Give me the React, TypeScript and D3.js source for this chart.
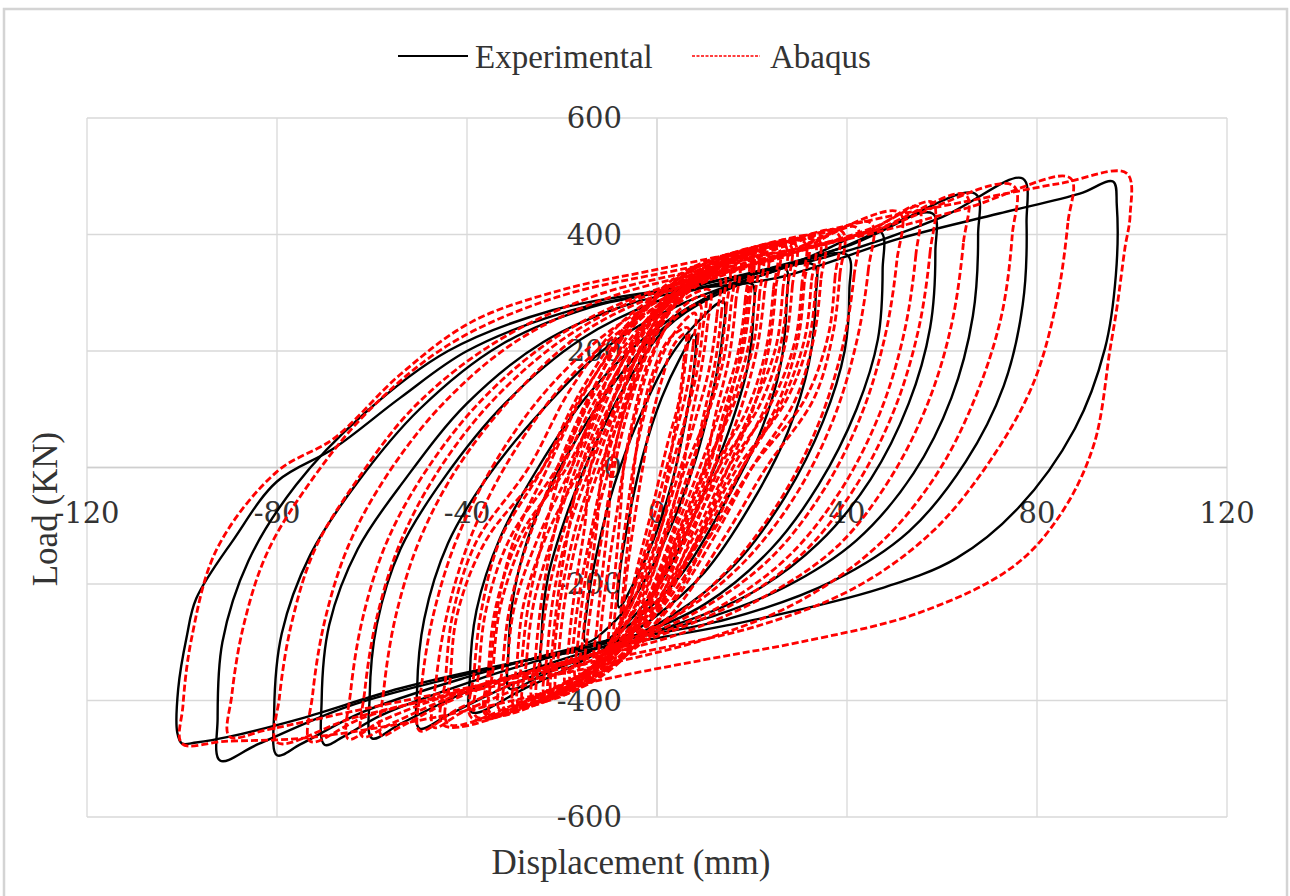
import React from 'react';
import * as d3 from 'd3';

// Axis ticks
const xTicks = [-120, -80, -40, 0, 40, 80, 120];
const yTicks = [-600, -400, -200, 0, 200, 400, 600];
const seriesNames = ['Experimental', 'Abaqus'];

// Experimental hysteresis loops, [displacement mm, load kN]
const exp01 = [[8,230],[7.8,170],[6,80],[3,-30],[-1,-130],[-5,-200],[-8,-240],[-7.8,-180],[-6,-90],[-3,20],[1,120],[5,190]];
const exp02 = [[14,285],[13.7,220],[11.5,120],[8,10],[3,-100],[-3,-200],[-9,-265],[-15,-300],[-14.7,-240],[-12.5,-140],[-9,-30],[-4,80],[2,180],[8,245]];
const exp03 = [[20,315],[20.3,265],[19,170],[15,60],[9,-60],[2,-180],[-6,-265],[-15,-320],[-24,-345],[-24.3,-290],[-23,-190],[-19,-80],[-13,40],[-6,150],[2,240],[11,290]];
const exp04 = [[27,342],[27.3,285],[26,175],[21.5,55],[14,-65],[5,-185],[-5,-265],[-16,-325],[-25,-360],[-31,-380],[-31.3,-320],[-30,-210],[-26,-95],[-19,20],[-10,135],[0,230],[11,295],[20,330]];
const exp05 = [[33,348],[33.4,290],[32,180],[27.5,60],[20,-60],[10,-180],[-1,-260],[-14,-325],[-28,-380],[-39,-420],[-39.4,-360],[-38,-245],[-33,-120],[-25,0],[-15,120],[-3,220],[10,290],[22,330]];
const exp06 = [[40,365],[40.5,305],[39.5,200],[35,80],[27,-50],[16,-170],[3,-255],[-13,-320],[-30,-370],[-44,-425],[-50,-448],[-50.5,-380],[-49,-260],[-44,-130],[-36,-20],[-24,100],[-10,210],[5,280],[22,330]];
const exp07 = [[47,405],[47.5,340],[46.5,220],[42,100],[34,-30],[24,-140],[10,-235],[-5,-290],[-22,-335],[-40,-385],[-54,-440],[-60,-465],[-60.5,-395],[-59,-270],[-54,-140],[-45,-20],[-32,110],[-16,220],[0,285],[15,320],[30,355]];
const exp08 = [[58,436],[58.6,370],[57.5,240],[53,110],[45,-20],[34,-130],[20,-215],[2,-275],[-20,-320],[-40,-370],[-58,-425],[-66,-462],[-70,-476],[-70.6,-400],[-69,-270],[-63,-140],[-53,-20],[-40,110],[-24,215],[-6,280],[15,320],[38,375]];
const exp09 = [[67,470],[67.6,400],[66.5,260],[62,120],[54,-10],[42,-125],[27,-205],[8,-265],[-15,-305],[-40,-360],[-62,-420],[-75,-475],[-80,-494],[-80.6,-420],[-79,-285],[-73,-150],[-63,-25],[-50,100],[-33,210],[-14,275],[10,315],[40,380]];
const exp10 = [[77,496],[77.8,420],[77,280],[73,140],[65,10],[53,-110],[37,-195],[15,-260],[-10,-300],[-40,-355],[-65,-410],[-84,-475],[-92,-503],[-92.5,-430],[-91.5,-300],[-86,-160],[-76,-30],[-62,90],[-44,200],[-22,270],[5,310],[35,360],[60,430]];
const exp11 = [[96,491],[96.8,450],[96.6,330],[94.3,204],[88,67],[76,-70],[63,-156],[47,-208],[22,-259],[0,-293],[-30,-335],[-54,-379],[-75,-431],[-90,-462],[-97,-472],[-100,-474],[-101,-455],[-100.8,-380],[-99,-290],[-97,-225],[-89,-122],[-80,-24],[-68,33],[-54,120],[-40,200],[-20,265],[0,300],[25,325],[51,393],[72,436],[89,470]];

// Abaqus hysteresis loops, small cycles first
const abq01 = [[6,230],[5.6,180],[4.5,110],[2.5,50],[1,0],[-1,-70],[-3.5,-150],[-5.5,-215],[-7,-250],[-6.6,-200],[-5.5,-130],[-4.2,-60],[-3,0],[-1.5,70],[1,150],[3.5,210]];
const abq02 = [[8,265],[7.6,210],[6.3,135],[4,60],[2,0],[-0.5,-80],[-3.5,-170],[-6.5,-245],[-9,-290],[-8.6,-230],[-7.5,-150],[-6.2,-70],[-5,0],[-3,80],[0,170],[4,235]];
const abq03 = [[10,295],[9.6,235],[8.3,160],[5.5,70],[3,0],[0,-90],[-4,-190],[-8,-270],[-12,-325],[-11.6,-260],[-10.3,-175],[-8.5,-80],[-7,0],[-4.5,90],[-1,190],[4,265]];
const abq04 = [[13,325],[12.6,260],[11,170],[8,80],[5,0],[1,-100],[-4,-210],[-9,-290],[-15,-350],[-14.6,-285],[-13,-190],[-11,-90],[-9,0],[-6,100],[-1.5,205],[5,290]];
const abq05 = [[16,345],[15.6,280],[14,185],[10.5,85],[7,0],[2.5,-105],[-3,-220],[-10,-310],[-18,-370],[-17.6,-300],[-16,-200],[-13.5,-95],[-11,0],[-7,110],[-1.5,220],[6,305]];
const abq06 = [[19,360],[18.6,290],[17,195],[13,90],[9,0],[4,-105],[-2,-225],[-10,-320],[-16,-365],[-22,-388],[-21.6,-315],[-20,-210],[-17,-100],[-13,0],[-8,115],[-2,230],[7,320],[13,348]];
const abq07 = [[20,362],[19.6,292],[18,198],[14,92],[11,0],[6,-100],[-1,-220],[-8,-315],[-15,-365],[-21,-385],[-20.6,-312],[-19,-208],[-16,-98],[-12,0],[-6,118],[0,232],[8,318],[14,348]];
const abq08 = [[22,368],[21.6,298],[20,200],[15.5,95],[10,0],[4.5,-110],[-2,-230],[-10,-325],[-18,-375],[-25,-396],[-24.6,-325],[-23,-220],[-19.5,-105],[-15,0],[-9,120],[-2,240],[8,325],[15,355]];
const abq09 = [[25,375],[24.5,305],[23,205],[19,100],[12,0],[6,-110],[-2,-230],[-11,-325],[-20,-380],[-28,-405],[-27.5,-335],[-26,-235],[-22,-120],[-17,0],[-11,120],[-3,240],[7,325],[16,362]];
const abq10 = [[27,380],[26.5,306],[25,206],[20,100],[14,0],[7,-110],[-1,-232],[-10,-328],[-20,-380],[-30,-410],[-29.5,-338],[-28,-232],[-23,-112],[-16,0],[-9,122],[0,242],[10,328],[19,365]];
const abq11 = [[28,382],[27.5,310],[26,210],[21.5,105],[13,0],[6,-115],[-2,-235],[-12,-330],[-22,-385],[-32,-415],[-31.5,-340],[-30,-238],[-25,-120],[-18,0],[-11,125],[-2,245],[9,330],[19,368]];
const abq12 = [[31,387],[30.5,315],[29,215],[24,110],[15,0],[8,-115],[-1,-240],[-12,-335],[-24,-390],[-35,-422],[-34.5,-345],[-33,-240],[-28,-120],[-20,0],[-12,130],[-2,250],[10,335],[21,372]];
const abq13 = [[33,390],[32.5,318],[31,218],[26,108],[18,0],[10,-112],[0,-240],[-12,-335],[-25,-392],[-36,-425],[-35.5,-348],[-34,-242],[-29,-120],[-19,0],[-11,128],[-1,252],[11,336],[22,374]];
const abq14 = [[34,392],[33.5,320],[32,220],[27,112],[17,0],[9,-118],[-1,-245],[-13,-340],[-26,-395],[-38,-428],[-37.5,-350],[-36,-245],[-31,-122],[-21,0],[-13,130],[-2,255],[12,338],[24,376]];
const abq15 = [[38,402],[37.5,328],[36,225],[31,115],[20,0],[11,-120],[0,-250],[-13,-340],[-28,-400],[-44,-440],[-43.5,-360],[-42,-250],[-36,-125],[-24,0],[-15,135],[-3,258],[14,340],[27,380]];
const abq16 = [[42,412],[41.5,330],[39,205],[34,75],[26,-55],[15,-175],[2,-265],[-12,-325],[-28,-375],[-41,-420],[-47,-446],[-46.5,-365],[-44,-245],[-39,-115],[-31,15],[-20,140],[-6,245],[10,318],[28,365]];
const abq17 = [[45,420],[44.5,340],[42,215],[37,80],[29,-50],[18,-165],[5,-250],[-10,-310],[-27,-360],[-42,-415],[-50,-452],[-49.5,-370],[-47,-250],[-42,-120],[-34,10],[-23,135],[-9,240],[8,315],[26,365]];
const abq18 = [[51,438],[50.5,355],[48,225],[43,90],[35,-40],[24,-155],[10,-240],[-6,-300],[-24,-345],[-42,-395],[-54,-445],[-58,-460],[-57.5,-380],[-55,-255],[-50,-125],[-42,0],[-30,125],[-15,235],[3,305],[25,360]];
const abq19 = [[55,448],[54.5,365],[52,230],[47,95],[39,-35],[28,-150],[14,-235],[-3,-295],[-22,-340],[-42,-390],[-56,-440],[-62,-462],[-61.5,-382],[-59,-258],[-54,-128],[-46,-5],[-34,120],[-18,230],[0,302],[24,358],[45,408]];
const abq20 = [[58,455],[57.5,370],[55,235],[50,100],[42,-30],[31,-145],[17,-230],[0,-290],[-20,-335],[-42,-385],[-58,-435],[-65,-466],[-64.5,-385],[-62,-260],[-57,-130],[-49,-10],[-37,115],[-21,225],[-2,300],[22,355],[45,410]];
const abq21 = [[65,468],[64.5,385],[62,245],[57,110],[49,-20],[38,-135],[23,-220],[5,-285],[-18,-335],[-42,-385],[-62,-430],[-73,-470],[-72.5,-390],[-70,-265],[-65,-135],[-57,-15],[-45,110],[-29,220],[-9,295],[18,350],[45,405]];
const abq22 = [[75,484],[74.8,400],[72.5,260],[67,120],[59,-10],[47,-130],[31,-225],[12,-290],[-12,-340],[-40,-385],[-64,-430],[-80,-472],[-79.5,-395],[-77,-270],[-72,-140],[-63,-20],[-51,105],[-34,215],[-13,295],[15,350],[45,405]];
const abq23 = [[87,497],[86.5,420],[84,280],[79,140],[70,10],[58,-110],[42,-205],[22,-270],[-5,-320],[-35,-370],[-62,-415],[-82,-450],[-90,-462],[-89.5,-390],[-87,-270],[-82,-145],[-73,-25],[-61,95],[-44,210],[-22,290],[5,340],[40,392],[65,445]];
const abq24 = [[98.9,505],[99.6,433],[98.5,376],[96.8,273],[95.4,204],[92,40],[85,-80],[75,-170],[55,-250],[30,-300],[10,-330],[-12,-365],[-33,-405],[-54,-440],[-75,-465],[-91,-470],[-100,-474],[-99.8,-409],[-98,-294],[-92.6,-139],[-80,-7],[-68,50],[-54,160],[-39,250],[-20,305],[0,340],[22,378],[43,421],[64,455],[85,488]];
// repeated cycles at the small amplitudes
const abq25 = [[6.5,240],[6.1,190],[5,120],[3.5,55],[2.5,0],[0.5,-80],[-2.5,-165],[-5,-230],[-7.5,-262],[-7.1,-210],[-6.2,-135],[-5.4,-60],[-4.8,0],[-3.5,75],[-1,160],[2.5,220]];
const abq26 = [[9,280],[8.6,222],[7.4,145],[5.5,65],[4,0],[1.5,-85],[-2,-180],[-5.5,-255],[-10,-305],[-9.6,-242],[-8.6,-160],[-7.7,-75],[-7,0],[-5,85],[-2,178],[3,250]];
const abq27 = [[11,305],[10.6,244],[9.3,168],[7,75],[5.5,0],[2.5,-95],[-1.5,-198],[-6,-280],[-13,-335],[-12.6,-270],[-11.5,-182],[-10.2,-85],[-9.5,0],[-7,95],[-3,198],[3,272]];
const abq28 = [[14,332],[13.6,268],[12.2,178],[9.7,85],[7.5,0],[3.5,-105],[-1.5,-215],[-7,-298],[-16,-358],[-15.6,-292],[-14.2,-196],[-12.6,-95],[-11.5,0],[-8,105],[-3,212],[4,296]];
const abq29 = [[17,350],[16.6,285],[15.2,190],[12.3,90],[10,0],[5,-110],[-1,-226],[-8,-316],[-19,-376],[-18.6,-306],[-17.2,-205],[-15.2,-100],[-14,0],[-9.5,113],[-3.5,225],[5,310]];
const abq30 = [[19.5,362],[19.1,292],[17.6,197],[14.6,92],[12,0],[6.5,-108],[0.5,-228],[-7,-322],[-14,-368],[-22.5,-392],[-22.1,-318],[-20.7,-212],[-18.5,-102],[-16,0],[-10.5,117],[-4,232],[5.5,322],[12,350]];
const abq31 = [[23,370],[22.6,300],[21,202],[17.5,97],[13,0],[7.5,-112],[1,-232],[-7,-327],[-16,-378],[-26,-400],[-25.6,-328],[-24.2,-222],[-21.5,-107],[-18,0],[-12,122],[-5,242],[5,327],[13,357]];
const abq32 = [[25.5,377],[25,307],[23.6,207],[20.3,102],[15,0],[9,-112],[1,-232],[-8,-327],[-18,-382],[-29,-408],[-28.5,-337],[-27.1,-237],[-24,-122],[-20,0],[-14,122],[-6,242],[4,327],[14,364]];
const abq33 = [[29,384],[28.5,312],[27,212],[23,107],[16,0],[9,-117],[1,-237],[-9,-332],[-20,-387],[-33,-417],[-32.5,-342],[-31,-240],[-27,-122],[-21,0],[-14,127],[-5,247],[6,332],[17,370]];
const abq34 = [[31.5,388],[31,316],[29.6,216],[25.5,111],[18,0],[11,-117],[2,-242],[-9,-337],[-21,-392],[-35.5,-424],[-35,-347],[-33.6,-242],[-30,-122],[-23,0],[-15,132],[-5,252],[7,337],[18,373]];
const abq35 = [[35,395],[34.5,322],[33,222],[29,114],[20,0],[12,-120],[2,-247],[-10,-342],[-23,-397],[-39,-430],[-38.5,-352],[-37,-247],[-33,-124],[-24,0],[-16,132],[-5,257],[9,340],[21,378]];
const abq36 = [[39,405],[38.5,331],[37,228],[33,118],[23,0],[14,-122],[3,-252],[-10,-342],[-25,-402],[-45,-442],[-44.5,-362],[-43,-252],[-38,-127],[-27,0],[-18,137],[-6,260],[11,342],[25,382]];
const abq37 = [[15,340],[14.6,275],[13.2,182],[10,80],[6,0],[2,-100],[-3,-210],[-9,-296],[-17,-362],[-16.6,-296],[-15.2,-198],[-13,-95],[-10,0],[-6.5,105],[-1.5,212],[5,298]];
const abq38 = [[21,364],[20.6,294],[19,199],[15,94],[10.5,0],[5,-106],[-1.5,-226],[-9,-320],[-17,-370],[-23.5,-392],[-23.1,-320],[-21.7,-216],[-18.5,-103],[-14,0],[-8,120],[-1,236],[8.5,322],[14.5,352]];

const experimentalLoops = [exp01, exp02, exp03, exp04, exp05, exp06, exp07, exp08, exp09, exp10, exp11];
const abaqusLoops = [abq01, abq02, abq03, abq04, abq05, abq06, abq07, abq08, abq09, abq10, abq11, abq12,
  abq13, abq14, abq15, abq16, abq17, abq18, abq19, abq20, abq21, abq22, abq23, abq24,
  abq25, abq26, abq27, abq28, abq29, abq30, abq31, abq32, abq33, abq34, abq35, abq36, abq37, abq38];

const W = 1290;
const H = 896;
const serif = '"Liberation Serif", "Times New Roman", serif';
const tickFont = '"DejaVu Serif", serif';

export default function App() {
  const x = d3.scaleLinear().domain([-120, 120]).range([87, 1227]);
  const y = d3.scaleLinear().domain([-600, 600]).range([817, 118]);

  const line = d3.line<number[]>()
    .x(d => x(d[0]))
    .y(d => y(d[1]))
    .curve(d3.curveCatmullRomClosed.alpha(0.5));

  return (
    <svg width={W} height={H} style={{ position: 'absolute', left: 0, top: 0, background: '#fff' }}>
      <rect x={4} y={9} width={1283} height={890} fill="#fff" stroke="#d4d4d4" strokeWidth={2.5} />

      {/* grid */}
      {xTicks.map(t => (
        <line key={'gx' + t} x1={x(t)} x2={x(t)} y1={y(600)} y2={y(-600)} stroke="#d9d9d9" strokeWidth={1.3} />
      ))}
      {yTicks.map(t => (
        <line key={'gy' + t} x1={x(-120)} x2={x(120)} y1={y(t)} y2={y(t)} stroke="#d9d9d9" strokeWidth={1.3} />
      ))}
      {/* axes through zero */}
      <line x1={x(-120)} x2={x(120)} y1={y(0)} y2={y(0)} stroke="#cfcfcf" strokeWidth={1.6} />
      <line x1={x(0)} x2={x(0)} y1={y(600)} y2={y(-600)} stroke="#d9d9d9" strokeWidth={1.3} />

      {/* tick labels */}
      {xTicks.map(t => (
        <text key={'tx' + t} x={x(t)} y={y(0) + 45} textAnchor="middle" dominantBaseline="central"
          fontFamily={tickFont} fontSize={29} fill="#333">{t}</text>
      ))}
      {yTicks.map(t => (
        <text key={'ty' + t} x={x(0) - 35} y={y(t)} textAnchor="end" dominantBaseline="central"
          fontFamily={tickFont} fontSize={29} fill="#333">{t}</text>
      ))}

      {/* series */}
      <g fill="none" stroke="#000" strokeWidth={2.4}>
        {experimentalLoops.map((loop, i) => <path key={'e' + i} d={line(loop) || ''} />)}
      </g>
      <g fill="none" stroke="#ff0000" strokeWidth={2.8} strokeDasharray="7,3">
        {abaqusLoops.map((loop, i) => <path key={'a' + i} d={line(loop) || ''} />)}
      </g>

      {/* axis titles */}
      <text x={631} y={862} textAnchor="middle" dominantBaseline="central" fontFamily={serif} fontSize={35} fill="#333">
        Displacement (mm)
      </text>
      <text transform="translate(45,509) rotate(-90)" textAnchor="middle" dominantBaseline="central"
        fontFamily={serif} fontSize={35} fill="#333">
        Load (KN)
      </text>

      {/* legend */}
      <line x1={398} x2={468} y1={56} y2={56} stroke="#000" strokeWidth={2.2} />
      <text x={475} y={57} dominantBaseline="central" fontFamily={serif} fontSize={33} fill="#333">{seriesNames[0]}</text>
      <line x1={692} x2={760} y1={56} y2={56} stroke="#ff0000" strokeWidth={1.6} strokeDasharray="3,1.5" />
      <text x={770} y={57} dominantBaseline="central" fontFamily={serif} fontSize={33} fill="#333">{seriesNames[1]}</text>
    </svg>
  );
}
